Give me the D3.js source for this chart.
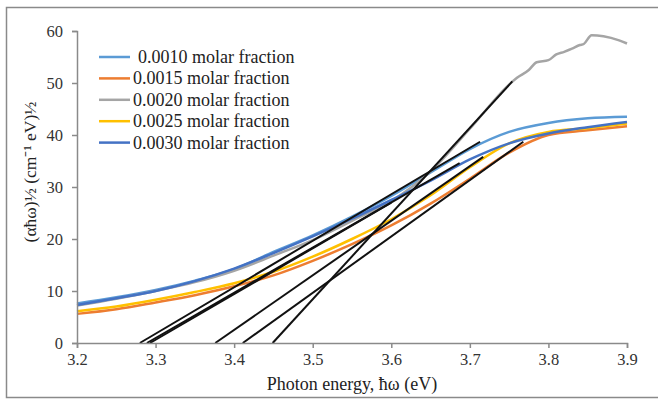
<!DOCTYPE html>
<html>
<head>
<meta charset="utf-8">
<script src="https://cdn.jsdelivr.net/npm/d3@7"></script>
<style>
  body { margin: 0; background: #fff; }
  svg { display: block; }
  text { font-family: "Liberation Serif", "Times New Roman", serif; }
</style>
</head>
<body>
<script>
var energy = [3.2, 3.25, 3.3, 3.35, 3.4, 3.45, 3.5, 3.55, 3.6, 3.65, 3.7, 3.75, 3.8, 3.85, 3.9]

var series = ['0.0010 molar fraction', '0.0015 molar fraction', '0.0020 molar fraction', '0.0025 molar fraction', '0.0030 molar fraction']
var colors = ['#5B9BD5', '#ED7D31', '#A5A5A5', '#FFC000', '#4472C4']

var mf0010 = [7.6, 8.8, 10.2, 12.0, 14.2, 17.5, 20.7, 24.3, 28.3, 32.8, 37.3, 40.6, 42.3, 43.2, 43.5]
var mf0015 = [5.6, 6.5, 7.8, 9.2, 10.9, 13.0, 15.8, 19.0, 22.6, 26.8, 31.6, 36.6, 40.0, 40.9, 41.7]
var mf0025 = [6.1, 7.0, 8.3, 9.8, 11.5, 13.7, 16.6, 20.0, 23.8, 28.4, 33.8, 38.4, 40.6, 41.3, 42.2]
var mf0030 = [7.3, 8.6, 10.0, 11.9, 14.3, 17.3, 20.5, 23.9, 27.5, 31.2, 35.3, 38.4, 40.3, 41.5, 42.5]

// gray series has its own x values because of the wiggles at the top
var energy0020 = [3.2, 3.25, 3.3, 3.35, 3.4, 3.45, 3.5, 3.55, 3.6, 3.65, 3.7, 3.75, 3.76, 3.775, 3.785, 3.8, 3.81, 3.82, 3.83, 3.84, 3.845, 3.855, 3.87, 3.89, 3.9]
var mf0020 = [7.2, 8.5, 10.0, 11.7, 13.9, 16.8, 19.8, 23.5, 27.3, 33.0, 41.2, 49.7, 51.0, 52.5, 54.0, 54.4, 55.5, 56.0, 56.6, 57.3, 57.5, 59.2, 59.0, 58.2, 57.6]

// tangent lines: x intercept and end point
var fitStart = [3.280, 3.289, 3.293, 3.376, 3.411, 3.449]
var fitEndX = [3.713, 3.687, 3.600, 3.717, 3.768, 3.754]
var fitEndY = [38.7, 34.6, 27.0, 35.8, 38.7, 50.3]

var xTicks = [3.2, 3.3, 3.4, 3.5, 3.6, 3.7, 3.8, 3.9]
var yTicks = [0, 10, 20, 30, 40, 50, 60]

var width = 658, height = 401
var plotLeft = 77, plotRight = 627, plotTop = 31, plotBottom = 343

var values = [mf0010, mf0015, mf0020, mf0025, mf0030]
var xs = [energy, energy, energy0020, energy, energy]

var svg = d3.select("body")
            .append("svg")
            .attr("width", width)
            .attr("height", height)

svg.append("rect")
   .attr("x", 6.5)
   .attr("y", 7.5)
   .attr("width", 700)
   .attr("height", 390)
   .attr("fill", "none")
   .attr("stroke", "#8a8a8a")
   .attr("stroke-width", 1.5)

var xscale = d3.scaleLinear()
               .domain([3.2, 3.9])
               .range([plotLeft, plotRight])

var yscale = d3.scaleLinear()
               .domain([0, 60])
               .range([plotBottom, plotTop])

var x_axis = d3.axisBottom(xscale)
               .tickValues(xTicks)
               .tickFormat(d3.format(".1f"))
               .tickSizeOuter(0)
               .tickSize(5)
               .tickPadding(5)

var y_axis = d3.axisLeft(yscale)
               .tickValues(yTicks)
               .tickSizeOuter(0)
               .tickSize(5)
               .tickPadding(9)

var line = d3.line()
             .x(d => xscale(d[0]))
             .y(d => yscale(d[1]))
             .curve(d3.curveMonotoneX)

values.forEach(function(v, i) {
    svg.append("path")
       .datum(v.map((y, j) => [xs[i][j], y]))
       .attr("d", line)
       .attr("fill", "none")
       .attr("stroke", colors[i])
       .attr("stroke-width", 2.5)
       .attr("stroke-linejoin", "round")
})

fitStart.forEach(function(s, i) {
    svg.append("line")
       .attr("x1", xscale(s))
       .attr("y1", yscale(0))
       .attr("x2", xscale(fitEndX[i]))
       .attr("y2", yscale(fitEndY[i]))
       .attr("stroke", "#111")
       .attr("stroke-width", 2)
})

var gy = svg.append("g")
            .attr("transform", "translate(" + plotLeft + ",0)")
            .call(y_axis)

var gx = svg.append("g")
            .attr("transform", "translate(0," + plotBottom + ")")
            .call(x_axis)

svg.selectAll(".domain, .tick line")
   .attr("stroke", "#8a8a8a")
   .attr("stroke-width", 1.5)

svg.selectAll(".tick text")
   .attr("fill", "#333")
   .attr("font-family", "Liberation Serif")
   .attr("font-size", 16.5)

svg.append("text")
   .attr("x", 352)
   .attr("y", 390)
   .attr("text-anchor", "middle")
   .attr("fill", "#222")
   .attr("font-size", 18)
   .text("Photon energy, ħω (eV)")

svg.append("text")
   .attr("transform", "translate(36,172) rotate(-90)")
   .attr("text-anchor", "middle")
   .attr("fill", "#222")
   .attr("font-size", 17.5)
   .text("(αħω)½ (cm⁻¹ eV)½")

//Legend
var legend = svg.append("g")
series.forEach(function(name, i) {
    var yy = 57 + i * 21.4
    legend.append("line")
          .attr("x1", 99)
          .attr("x2", 130)
          .attr("y1", yy)
          .attr("y2", yy)
          .attr("stroke", colors[i])
          .attr("stroke-width", 2.5)
    legend.append("text")
          .attr("x", i == 0 ? 138 : 133)
          .attr("y", yy + 6)
          .attr("fill", "#222")
          .attr("font-size", 18)
          .text(name)
})
</script>
</body>
</html>
